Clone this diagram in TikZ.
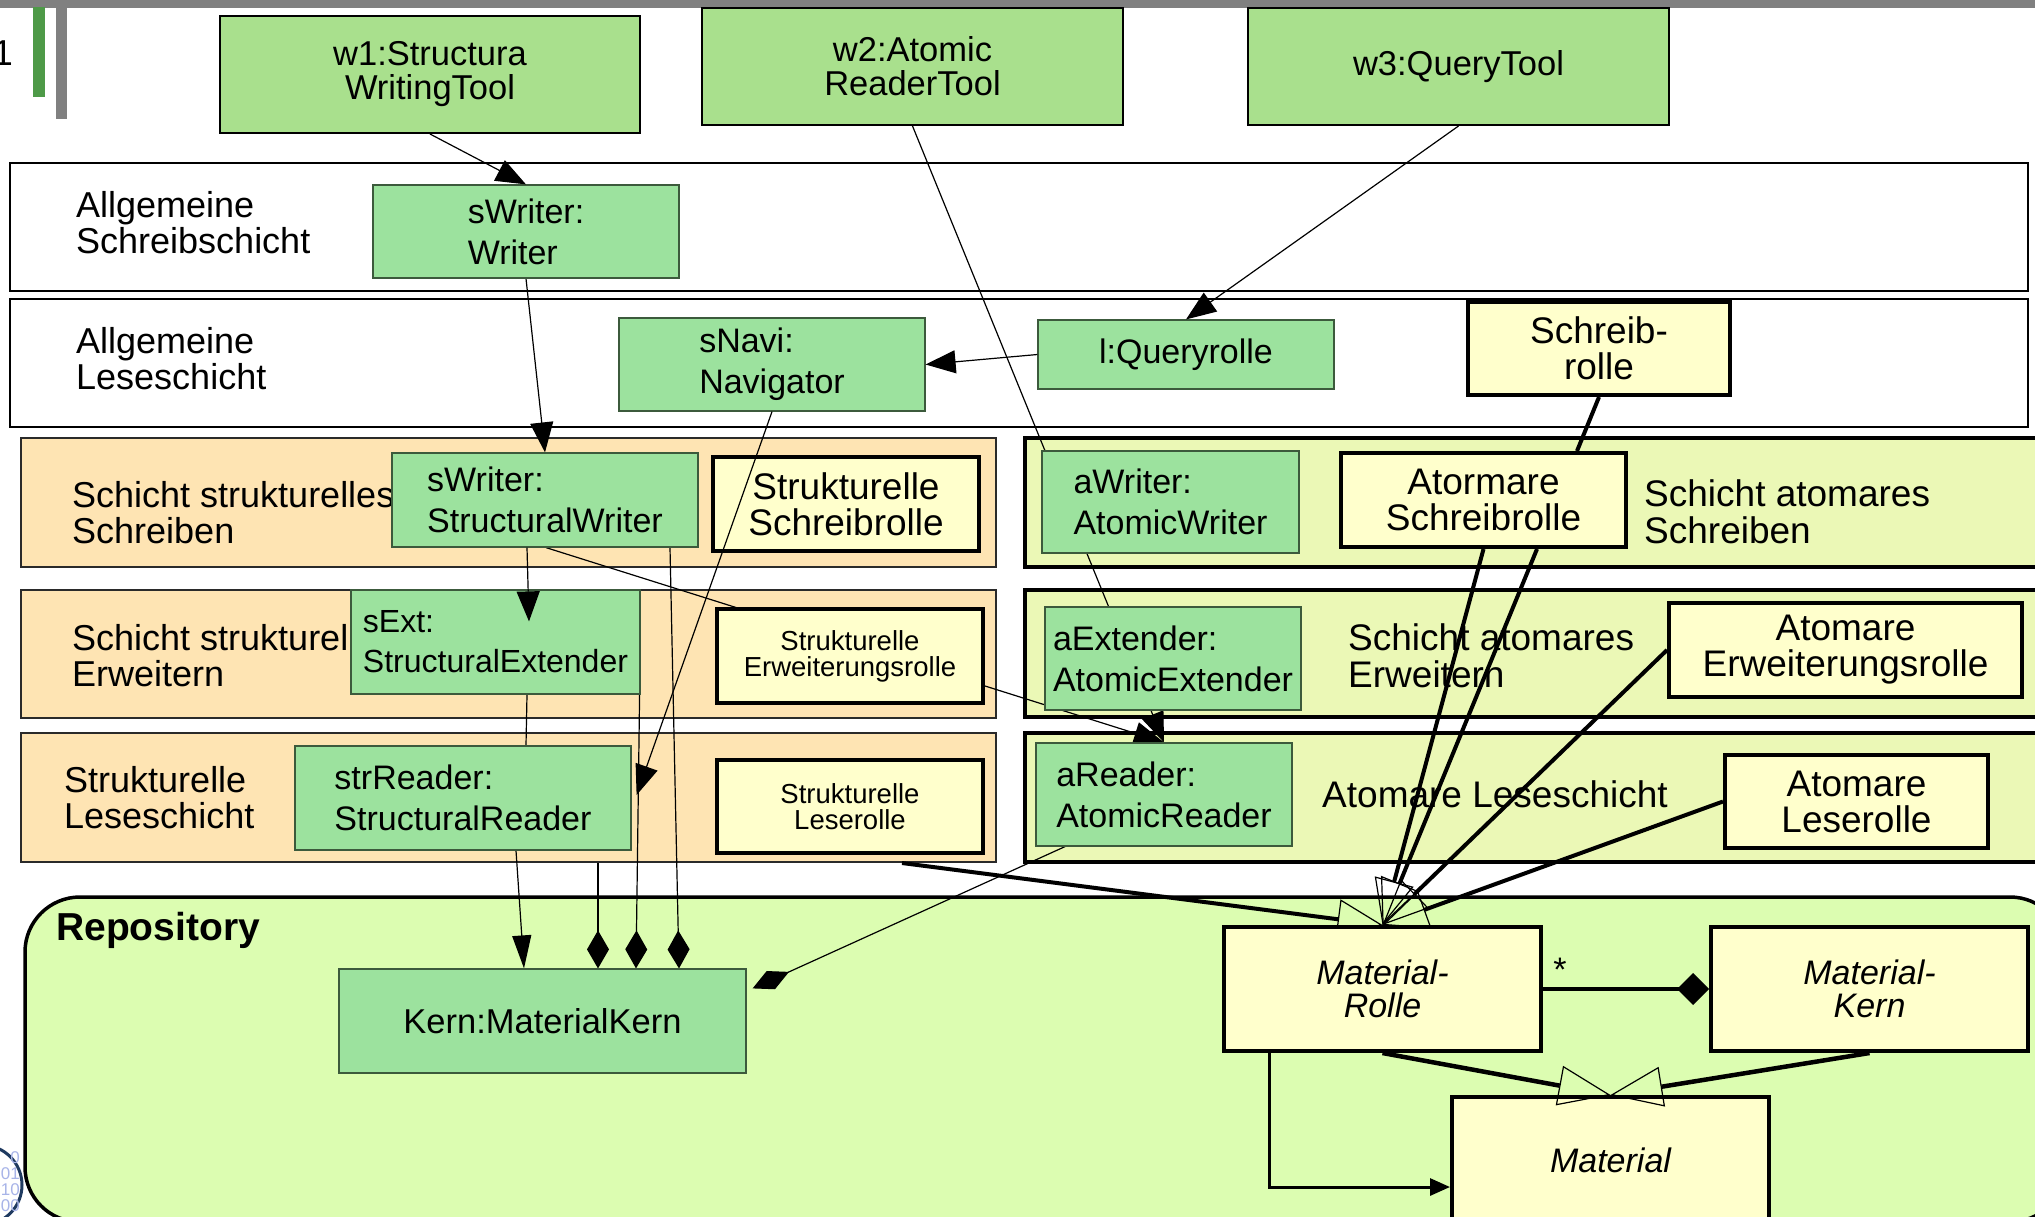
\documentclass[tikz,border=0pt]{standalone}
\usepackage{fontspec}
\setmainfont{Liberation Sans}
\usetikzlibrary{arrows.meta}
\pgfdeclarelayer{back}
\pgfdeclarelayer{mid}
\pgfdeclarelayer{front}
\pgfsetlayers{back,mid,main,front}
\definecolor{toolgreen}{HTML}{A9E08D}
\definecolor{objgreen}{HTML}{9CE29E}
\definecolor{objline}{HTML}{3C5A3C}
\definecolor{roleyellow}{HTML}{FFFFCC}
\definecolor{strorange}{HTML}{FEE4B3}
\definecolor{rowline}{HTML}{2A2A2A}
\definecolor{atomgreen}{HTML}{EBF8B6}
\definecolor{repogreen}{HTML}{DCFDB1}
\definecolor{bargray}{HTML}{808080}
\definecolor{bargreen}{HTML}{4E9A48}
\definecolor{logonavy}{HTML}{1F3A60}
\definecolor{logoblue}{HTML}{A8B4E8}
\newcommand{\myfs}[2]{\fontsize{#1}{#2}\selectfont}
\tikzset{
  sz/.style 2 args={minimum width=#1pt, minimum height=#2pt},
  tool/.style={draw=black, line width=2pt, fill=toolgreen, inner sep=0pt, align=center, font=\myfs{34.5}{34}},
  obj/.style={draw=objline, line width=1.2pt, fill=objgreen, inner sep=0pt, align=left, font=\myfs{34}{41}},
  role/.style={draw=black, line width=4pt, fill=roleyellow, inner sep=0pt, align=center, font=\myfs{37}{36}},
  rolesm/.style={role, font=\myfs{27.5}{26}},
  cls/.style={draw=black, line width=4pt, fill=roleyellow, inner sep=0pt, align=center, font=\myfs{34}{33}\itshape},
  layerbox/.style={draw=black, line width=2pt, fill=white, inner sep=0pt},
  strrow/.style={draw=rowline, line width=2pt, fill=strorange, inner sep=0pt},
  atomrow/.style={draw=black, line width=4.5pt, fill=atomgreen, inner sep=0pt},
  lbl/.style={anchor=base west, align=left, inner sep=0pt, font=\myfs{36}{36}},
  lblr/.style={lbl, font=\myfs{37}{37}},
  thinln/.style={line width=1.2pt},
  thickln/.style={line width=4pt},
  arr/.style={-{Triangle[length=30pt,width=23pt]}},
  dia/.style={-{Diamond[length=38pt,width=22pt]}},
  gen/.style={-{Triangle[open,length=45pt,width=40pt,line width=1.2pt]}},
  genb/.style={-{Triangle[open,length=52pt,width=40pt,line width=1.2pt]}},
}
\begin{document}
\begin{tikzpicture}[x=1pt,y=-1pt]
\useasboundingbox (0,0) rectangle (2035,1216);
\begin{pgfonlayer}{back}
  \clip (0,0) rectangle (2035,1216);
  \fill[white] (0,0) rectangle (2035,1216);
  \fill[bargray] (0,0) rectangle (2035,7.5);
  \fill[bargreen] (33,7) rectangle (45,97);
  \fill[bargray] (56,7) rectangle (67,119);
  \node[anchor=base east, inner sep=0pt, font=\myfs{36}{36}] (pagenum) at (13,65) {1};
  % layers
  \node[layerbox, sz={2018}{128}] (ls1) at (1019,227) {};
  \node[layerbox, sz={2018}{128}] (ls2) at (1019,363) {};
  \node[strrow, sz={975}{129}] (row3L) at (508.5,502.5) {};
  \node[strrow, sz={975}{128}] (row4L) at (508.5,654) {};
  \node[strrow, sz={975}{129}] (row5L) at (508.5,797.5) {};
  \node[atomrow, sz={1035}{129}] (row3R) at (1542.5,502.5) {};
  \node[atomrow, sz={1035}{127}] (row4R) at (1542.5,653.5) {};
  \node[atomrow, sz={1035}{129}] (row5R) at (1542.5,797.5) {};
  \node[draw=black, line width=3.5pt, fill=repogreen, rounded corners=55pt, inner sep=0pt, sz={2040}{325}] (repo) at (1045,1059.5) {};
  % labels (base = baseline of the last line)
  \node[lbl] (lblLS1) at (76,253) {Allgemeine\\Schreibschicht};
  \node[lbl] (lblLS2) at (76,389) {Allgemeine\\Leseschicht};
  \node[lbl] (lblR3L) at (72,543) {Schicht strukturelles\\Schreiben};
  \node[lbl] (lblR4L) at (72,686) {Schicht strukturelles\\Erweitern};
  \node[lbl] (lblR5L) at (64,828) {Strukturelle\\Leseschicht};
  \node[lblr] (lblR3R) at (1644,543) {Schicht atomares\\Schreiben};
  \node[lblr] (lblR4R) at (1348,687) {Schicht atomares\\Erweitern};
  \node[lblr] (lblR5R) at (1322,807) {Atomare Leseschicht};
  \node[anchor=base west, inner sep=0pt, font=\myfs{39}{39}\bfseries] (repolbl) at (56,940) {Repository};
\end{pgfonlayer}

% main nodes
\begin{scope}
\clip (0,0) rectangle (2035,1216);
\node[tool, sz={420}{117}] (w1) at (430,74.5) {w1:Structura\\WritingTool};
\node[tool, sz={421}{117}] (w2) at (912.5,66.5) {w2:Atomic\\ReaderTool};
\node[tool, sz={421}{117}] (w3) at (1458.5,66.5) {w3:QueryTool};

\node[obj, sz={306}{93}] (sWriterW) at (526,231.5) {sWriter:\\Writer};
\node[obj, sz={306}{93}] (sNavi) at (772,364.5) {sNavi:\\Navigator};
\node[obj, align=center, sz={296}{69}] (lQuery) at (1186,354.5) {l:Queryrolle};
\node[role, sz={262}{93}] (SchreibRolle) at (1599,348.5) {Schreib-\\rolle};

\node[obj, sz={306}{94}] (sWriterS) at (545,500) {sWriter:\\StructuralWriter};
\node[role, sz={266}{94}] (StrSchreibR) at (846,504) {Strukturelle\\Schreibrolle};
\node[obj, sz={257}{102}] (aWriter) at (1170.5,502) {aWriter:\\AtomicWriter};
\node[role, sz={285}{94}] (AtSchreibR) at (1483.5,500) {Atormare\\Schreibrolle};

\node[obj, font=\myfs{32}{40}, sz={289}{104}] (sExt) at (495.5,642) {sExt:\\StructuralExtender};
\node[rolesm, sz={266}{94}] (StrErwR) at (850,656) {Strukturelle\\Erweiterungsrolle};
\node[obj, sz={256}{103}] (aExt) at (1173,658.5) {aExtender:\\AtomicExtender};
\node[role, sz={353}{94}] (AtErwR) at (1845.5,650) {Atomare\\Erweiterungsrolle};

\node[obj, sz={336}{104}] (strReader) at (463,798) {strReader:\\StructuralReader};
\node[rolesm, sz={266}{93}] (StrLeseR) at (850,806.5) {Strukturelle\\Leserolle};
\node[obj, sz={256}{103}] (aReader) at (1164,794.5) {aReader:\\AtomicReader};
\node[role, sz={263}{93}] (AtLeseR) at (1856.5,801.5) {Atomare\\Leserolle};

\node[obj, align=center, font=\myfs{34.5}{34}, sz={407}{104}] (Kern) at (542.5,1021) {Kern:MaterialKern};
\node[cls, sz={317}{124}] (MRolle) at (1382.5,989) {Material-\\Rolle};
\node[cls, sz={317}{124}] (MKern) at (1869.5,989) {Material-\\Kern};
\node[cls, sz={317}{135}] (Material) at (1610.5,1164.5) {\raisebox{8pt}{Material}};
\end{scope}

% connectors beneath the boxes
\begin{pgfonlayer}{mid}
  \clip (0,0) rectangle (2035,1216);
  \draw[thinln, arr] (w2.south) -- (aReader.north);
  \draw[thinln, arr] (sWriterW.south) -- (sWriterS.north);
  \draw[thinln] ([xshift=31.5pt]sExt.south) -- ([xshift=63pt]strReader.north);
  \draw[thinln, -{Triangle[length=33pt,width=19pt]}] ([xshift=53pt]strReader.south) -- ([xshift=-18.5pt]Kern.north);
  \draw[thinln, dia] ([xshift=89.5pt]row5L.south) -- ([xshift=55.5pt]Kern.north);
  \draw[thinln, dia] ([xshift=-1pt]sExt.south east) -- ([xshift=93.5pt]Kern.north);
  \draw[thinln, dia] ([xshift=125pt]sWriterS.south) -- ([xshift=136.5pt]Kern.north);
  \draw[thinln, arr] ([xshift=1pt]sWriterS.south) -- (aReader.north);
  \draw[thinln, -{Diamond[length=40pt,width=20pt]}] ([xshift=-99pt]aReader.south) -- ([xshift=6pt,yshift=-20pt]Kern.north east);
  \draw[thickln, gen] ([xshift=393.5pt]row5L.south) -- (MRolle.north);
  \draw[thickln, gen] (AtSchreibR.south) -- (MRolle.north);
  \draw[thickln, gen] ([xshift=53.5pt]AtSchreibR.south) -- (MRolle.north);
  \draw[thickln, gen] (AtErwR.west) -- (MRolle.north);
  \draw[thickln, gen] (AtLeseR.west) -- (MRolle.north);
  \draw[thickln, -{Diamond[length=32pt,width=32pt]}] (MRolle.east) -- (MKern.west);
  \draw[line width=3pt, -{Triangle[length=20pt,width=17pt]}] ([xshift=-113.5pt]MRolle.south) |- ([yshift=-22.5pt]Material.west);
  \draw[thickln] (SchreibRolle.south) -- ([xshift=93.5pt]AtSchreibR.north);
\end{pgfonlayer}

% connectors above the boxes
\begin{pgfonlayer}{front}
  \clip (0,0) rectangle (2035,1216);
  \draw[thinln, arr] (w1.south) -- (sWriterW.north);
  \draw[thinln, arr] (w3.south) -- (lQuery.north);
  \draw[thinln, arr] (lQuery.west) -- (sNavi.east);
  \draw[thinln, arr] ([xshift=-18pt]sWriterS.south) -- ([xshift=33.5pt,yshift=-32pt]sExt.north);
  \draw[thinln, arr] (sNavi.south) -- ([xshift=5pt,yshift=3pt]strReader.east);
  \draw[line width=4.5pt, genb] (MRolle.south) -- (Material.north);
  \draw[line width=4.5pt, genb] (MKern.south) -- (Material.north);
  \node[anchor=base, inner sep=0pt, font=\myfs{34}{34}] (star) at (1560,981) {*};
  \draw[logonavy, line width=3pt] (-18,1185) circle[radius=40];
  \node[anchor=east, align=right, inner sep=0pt, text=logoblue, font=\myfs{17}{16}] (logodigits) at (20,1182) {0\\01\\10\\00};
\end{pgfonlayer}
\end{tikzpicture}
\end{document}
